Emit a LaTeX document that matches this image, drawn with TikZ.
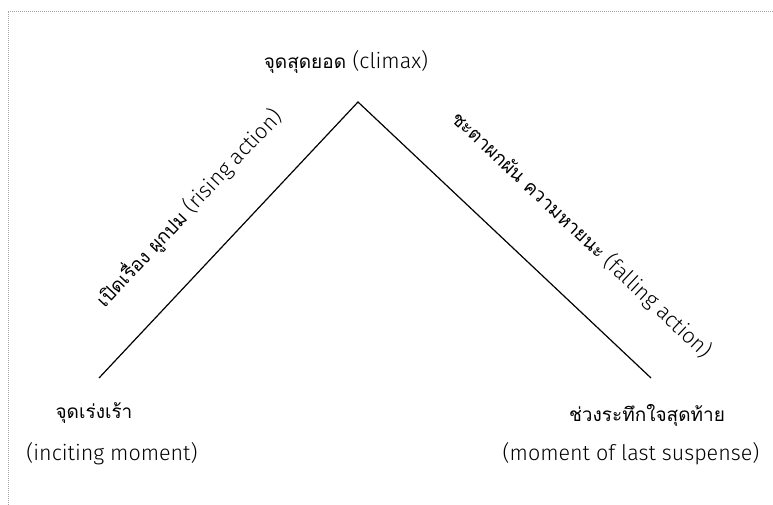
\documentclass[tikz,border=0pt]{standalone}
\usepackage{fontspec}
\newfontfamily\thaifont[Script=Thai]{Loma}
\newfontfamily\latinfont{Fira Sans Light}
\newcommand{\en}[1]{{\latinfont\fontsize{21.5}{24}\selectfont #1}}
\usetikzlibrary{positioning}

\begin{document}
\begin{tikzpicture}[x=1pt, y=-1pt,
  label/.style={font=\thaifont\fontsize{19}{22}\selectfont, inner sep=2pt},
  arc/.style={draw=black, line width=1.2pt},
  frame/.style={draw=gray!70, line width=0.8pt, dash pattern=on 1pt off 1pt}]
  \useasboundingbox (0,0) rectangle (773,505);
  \draw[frame] (8,505) -- (8,11) -- (773,11);
  \coordinate (inciting) at (99,378);
  \coordinate (peak) at (358,102);
  \coordinate (suspense) at (651,378);
  \draw[arc] (inciting)
    -- node[label, sloped, above=36pt, pos=0.49] (rising) {เปิดเรื่อง ผูกปม \en{(rising action)}} (peak)
    -- node[label, sloped, above=43pt, pos=0.63] (falling) {ชะตาผกผัน ความหายนะ \en{(falling action)}} (suspense);
  \node[label] (climax) at (346,62) {จุดสุดยอด \en{(climax)}};
  \node[label] (incth) at (94,413) {จุดเร่งเร้า};
  \node[label] (incen) at (112,454) {\en{(inciting moment)}};
  \node[label] (susth) at (647,415) {ช่วงระทึกใจสุดท้าย};
  \node[label] (susen) at (631,454) {\en{(moment of last suspense)}};
\end{tikzpicture}
\end{document}
